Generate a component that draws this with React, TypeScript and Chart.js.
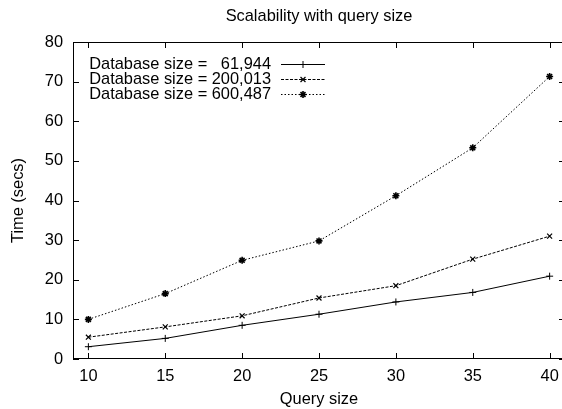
import React, { useEffect, useRef } from "react";
import { Chart, registerables } from "chart.js";
import { drawPoint } from "chart.js/helpers";

Chart.register(...registerables);

const querySizes = [10, 15, 20, 25, 30, 35, 40];
const db61944 = [3.1, 5.2, 8.5, 11.3, 14.4, 16.8, 20.9];
const db200013 = [5.5, 8.1, 10.9, 15.4, 18.5, 25.2, 31.0];
const db600487 = [10.0, 16.5, 24.9, 29.8, 41.2, 53.3, 71.3];
const seriesLabels = [
  "Database size =   61,944",
  "Database size = 200,013",
  "Database size = 600,487",
];
const xTicks = [10, 15, 20, 25, 30, 35, 40];
const yTicks = [0, 10, 20, 30, 40, 50, 60, 70, 80];
const titleText = "Scalability with query size";
const xTitle = "Query size";
const yTitle = "Time (secs)";

const FONT = '"Liberation Sans", Arial, sans-serif';
const FS = 16.4;

const framePlugin = {
  id: "gnuplotFrame",
  afterDraw(chart: any) {
    const { ctx, chartArea } = chart;
    const { left, right, top, bottom } = chartArea;
    const xs = chart.scales.x;
    const ys = chart.scales.y;
    ctx.save();
    ctx.strokeStyle = "#000";
    ctx.lineWidth = 1;
    ctx.setLineDash([]);
    ctx.strokeRect(left + 0.5, top + 0.5, right - left - 1, bottom - top - 1);
    const tl = 6;
    ctx.beginPath();
    xTicks.forEach((v) => {
      const px = Math.round(xs.getPixelForValue(v)) + 0.5;
      ctx.moveTo(px, bottom);
      ctx.lineTo(px, bottom - tl);
      ctx.moveTo(px, top);
      ctx.lineTo(px, top + tl);
    });
    yTicks.forEach((v) => {
      const py = Math.round(ys.getPixelForValue(v)) + 0.5;
      ctx.moveTo(left, py);
      ctx.lineTo(left + tl, py);
      ctx.moveTo(right, py);
      ctx.lineTo(right - tl, py);
    });
    ctx.stroke();

    // title
    ctx.fillStyle = "#000";
    ctx.font = `${FS}px ${FONT}`;
    ctx.textAlign = "center";
    ctx.textBaseline = "middle";
    ctx.fillText(titleText, (left + right) / 2, 16);

    // legend
    chart.data.datasets.forEach((ds: any, i: number) => {
      const y = 64 + 15 * i;
      ctx.textAlign = "right";
      ctx.textBaseline = "middle";
      ctx.fillStyle = "#000";
      ctx.fillText(ds.label, 271, y);
      ctx.beginPath();
      ctx.lineWidth = 1;
      ctx.setLineDash(ds.borderDash || []);
      ctx.moveTo(281, y + 0.5);
      ctx.lineTo(325, y + 0.5);
      ctx.stroke();
      ctx.setLineDash([]);
      ctx.lineWidth = ds.pointBorderWidth;
      drawPoint(
        ctx,
        { pointStyle: ds.pointStyle, radius: ds.pointRadius, rotation: 0, borderWidth: ds.pointBorderWidth },
        303,
        y + 0.5
      );
    });
    ctx.restore();
  },
};

export default function App() {
  const ref = useRef<HTMLCanvasElement>(null);
  useEffect(() => {
    if (!ref.current) return;
    const mk = (label: string, data: number[], dash: number[], style: string, pbw: number) => ({
      label,
      data: querySizes.map((x, i) => ({ x, y: data[i] })),
      borderColor: "#000",
      backgroundColor: "#000",
      borderWidth: 1,
      borderDash: dash,
      pointStyle: style,
      pointRadius: 3.5,
      pointBorderWidth: pbw,
      pointBorderColor: "#000",
      pointBackgroundColor: "#000",
      fill: false,
      tension: 0,
    });
    const chart = new Chart(ref.current, {
      type: "line",
      data: {
        datasets: [
          mk(seriesLabels[0], db61944, [], "cross", 1),
          mk(seriesLabels[1], db200013, [3, 1.5], "crossRot", 1.2),
          mk(seriesLabels[2], db600487, [1.5, 2], "star", 1.6),
        ],
      },
      options: {
        animation: false,
        responsive: false,
        maintainAspectRatio: false,
        devicePixelRatio: 1,
        layout: { padding: { top: 42, right: 15, left: 0, bottom: 0 } },
        plugins: {
          legend: { display: false },
          title: { display: false },
          tooltip: { enabled: false },
        },
        scales: {
          x: {
            type: "linear",
            min: 9,
            max: 41,
            afterBuildTicks: (s: any) => {
              s.ticks = xTicks.map((v) => ({ value: v }));
            },
            afterFit: (s: any) => {
              s.height = 50;
            },
            grid: { display: false, drawTicks: false },
            border: { display: false },
            ticks: {
              color: "#000",
              font: { family: FONT, size: FS },
              padding: 8,
              maxRotation: 0,
              autoSkip: false,
            },
            title: {
              display: true,
              text: xTitle,
              color: "#000",
              font: { family: FONT, size: FS },
              padding: { top: 0, bottom: 0 },
            },
          },
          y: {
            type: "linear",
            min: 0,
            max: 80,
            afterBuildTicks: (s: any) => {
              s.ticks = yTicks.map((v) => ({ value: v }));
            },
            afterFit: (s: any) => {
              s.width = 73;
            },
            grid: { display: false, drawTicks: false },
            border: { display: false },
            ticks: {
              color: "#000",
              font: { family: FONT, size: FS },
              padding: 10,
              autoSkip: false,
            },
            title: {
              display: true,
              text: yTitle,
              color: "#000",
              font: { family: FONT, size: FS },
              padding: { top: 9, bottom: 0 },
            },
          },
        },
      },
      plugins: [framePlugin],
    });
    return () => chart.destroy();
  }, []);
  return (
    <div
      style={{
        position: "fixed",
        left: 0,
        top: 0,
        width: 562,
        height: 409,
        overflow: "hidden",
        background: "#fff",
      }}
    >
      <canvas ref={ref} width={580} height={409} style={{ display: "block" }} />
    </div>
  );
}
